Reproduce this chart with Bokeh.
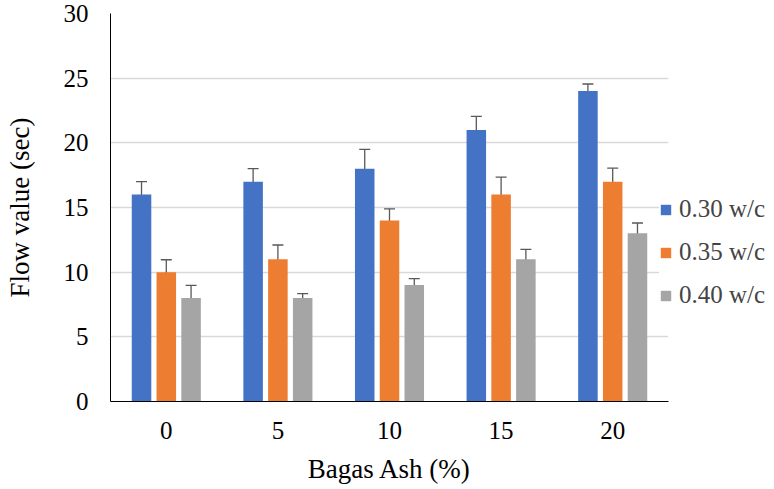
from bokeh.plotting import figure
from bokeh.models import (ColumnDataSource, FactorRange, FixedTicker, Whisker, TeeHead,
                          Legend, LegendItem)
from bokeh.transform import dodge
from bokeh.embed import file_html
from bokeh.resources import INLINE

categories = ["0", "5", "10", "15", "20"]
series_names = ["0.30 w/c", "0.35 w/c", "0.40 w/c"]
flow_030 = [16, 17, 18, 21, 24]
flow_035 = [10, 11, 14, 16, 17]
flow_040 = [8, 8, 9, 11, 13]
err_up_030 = [1.0, 1.0, 1.5, 1.05, 0.55]
err_dn_030 = [0.95, 1.4, 1.0, 0.5, 0.1]
err_up_035 = [0.96, 1.1, 0.9, 1.35, 1.04]
err_dn_035 = [0.95, 1.1, 0.85, 1.33, 1.0]
err_up_040 = [0.98, 0.34, 0.5, 0.76, 0.8]
err_dn_040 = [0.96, 0.32, 0.47, 0.76, 0.73]
y_ticks = [0, 5, 10, 15, 20, 25, 30]

colors = ["#4472C4", "#ED7D31", "#A5A5A5"]
offsets = [-0.222, 0.0, 0.222]
FONT = "Liberation Serif"

p = figure(x_range=FactorRange(*categories, range_padding=0), y_range=(0, 30),
           frame_width=558, frame_height=388,
           min_border_left=110, min_border_right=0, min_border_top=13, min_border_bottom=88,
           output_backend="svg", toolbar_location=None, outline_line_color=None)

series = [(flow_030, err_up_030, err_dn_030), (flow_035, err_up_035, err_dn_035),
          (flow_040, err_up_040, err_dn_040)]
items = []
for i, (vals, up, dn) in enumerate(series):
    src = ColumnDataSource(dict(
        cat=categories, val=vals,
        upper=[v + u for v, u in zip(vals, up)],
        lower=[v - d for v, d in zip(vals, dn)],
    ))
    r = p.vbar(x=dodge("cat", offsets[i], range=p.x_range), top="val", width=0.175,
               source=src, fill_color=colors[i], line_color=None)
    items.append(LegendItem(label=series_names[i], renderers=[r]))
    w = Whisker(source=src, base=dodge("cat", offsets[i], range=p.x_range),
                upper="upper", lower="lower", line_color="#595959", line_width=1.3,
                upper_head=TeeHead(size=11, line_color="#595959", line_width=1.3),
                lower_head=TeeHead(size=11, line_color="#595959", line_width=1.3))
    p.add_layout(w)

legend = Legend(items=items, location=(-9, 92), glyph_width=13, glyph_height=13,
                label_text_font=FONT, label_text_font_size="25px", label_standoff=7,
                spacing=15, padding=0, margin=0, border_line_color=None,
                background_fill_color="white", background_fill_alpha=1.0)
p.add_layout(legend, "right")

p.yaxis.ticker = FixedTicker(ticks=y_ticks)
p.yaxis.major_label_text_font = FONT
p.yaxis.major_label_text_font_size = "25px"
p.yaxis.major_label_text_color = "black"
p.yaxis.major_tick_line_color = None
p.yaxis.major_tick_out = 0
p.yaxis.major_tick_in = 0
p.yaxis.minor_tick_line_color = None
p.yaxis.major_label_standoff = 22
p.yaxis.axis_line_color = "black"
p.yaxis.axis_label = "Flow value (sec)"
p.yaxis.axis_label_text_font = FONT
p.yaxis.axis_label_text_font_size = "27px"
p.yaxis.axis_label_text_font_style = "normal"
p.yaxis.axis_label_text_color = "black"
p.yaxis.axis_label_standoff = 26

p.xaxis.major_label_text_font = FONT
p.xaxis.major_label_text_font_size = "25px"
p.xaxis.major_label_text_color = "black"
p.xaxis.major_tick_line_color = None
p.xaxis.major_tick_out = 0
p.xaxis.major_tick_in = 0
p.xaxis.minor_tick_line_color = None
p.xaxis.major_label_standoff = 20
p.xaxis.axis_line_color = "black"
p.xaxis.axis_label = "Bagas Ash (%)"
p.xaxis.axis_label_text_font = FONT
p.xaxis.axis_label_text_font_size = "27px"
p.xaxis.axis_label_text_font_style = "normal"
p.xaxis.axis_label_text_color = "black"
p.xaxis.axis_label_standoff = 12

p.xgrid.grid_line_color = None
p.ygrid.grid_line_color = "#D9D9D9"
p.ygrid.grid_line_width = 1.3
p.ygrid.ticker = FixedTicker(ticks=y_ticks)

open("out.html", "w").write(file_html(p, INLINE))
